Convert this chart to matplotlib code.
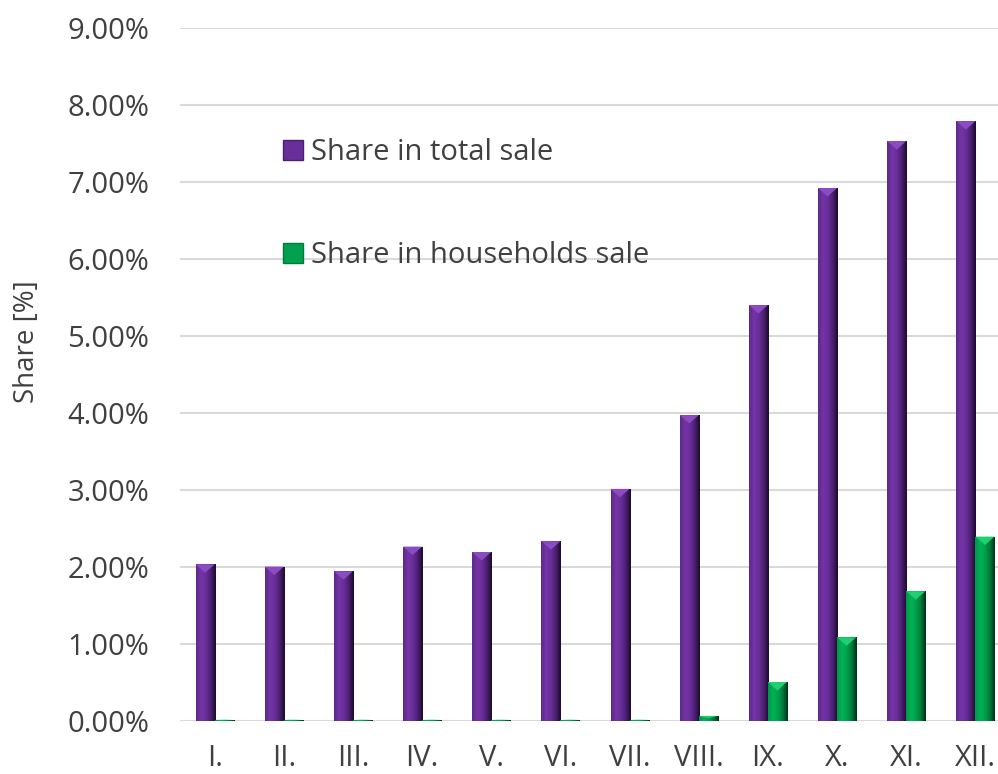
import numpy as np
import matplotlib
matplotlib.use("Agg")
import matplotlib.pyplot as plt
from matplotlib.patches import Patch, Polygon
from matplotlib.colors import LinearSegmentedColormap

# Data (shares in %)
months = ["I.", "II.", "III.", "IV.", "V.", "VI.", "VII.", "VIII.", "IX.", "X.", "XI.", "XII."]
total_share = [2.03, 2.00, 1.94, 2.26, 2.19, 2.33, 3.01, 3.97, 5.40, 6.92, 7.53, 7.79]
household_share = [0.01, 0.01, 0.01, 0.01, 0.01, 0.01, 0.01, 0.06, 0.50, 1.08, 1.68, 2.39]

plt.rcParams['font.family'] = ['Open Sans', 'DejaVu Sans']
text_color = '#404040'

# Bar shading: light left stripe, dark right edge
purple_cmap = LinearSegmentedColormap.from_list(
    'purple', ['#5b2a88', '#7534a8', '#6a2e9a', '#4a2070', '#1c0a2c'])
green_cmap = LinearSegmentedColormap.from_list(
    'green', ['#00944a', '#00b356', '#00a04d', '#007a3a', '#00301a'])

fig = plt.figure(figsize=(9.98, 7.74), dpi=100)
ax = fig.add_axes([180 / 998, 53.5 / 774, 830 / 998, 692.5 / 774])

x = np.arange(len(months))
w = 0.275
bars_total = ax.bar(x - w / 2, total_share, w, color='#6a2e9a', zorder=3)
bars_house = ax.bar(x + w / 2, household_share, w, color='#00a04d', zorder=3)

grad = np.linspace(0, 1, 64).reshape(1, -1)
for bars, cmap, top_col in [(bars_total, purple_cmap, '#8a4cc0'),
                            (bars_house, green_cmap, '#1fd070')]:
    for b in bars:
        x0, y0 = b.get_x(), b.get_y()
        x1, y1 = x0 + b.get_width(), y0 + b.get_height()
        im = ax.imshow(grad, extent=[x0, x1, y0, y1], aspect='auto',
                       cmap=cmap, zorder=4, interpolation='bicubic')
        im.set_clip_path(b)
        # small bevel at the top of the bar
        d = min(0.11, b.get_height() * 0.5)
        tri = Polygon([(x0, y1), (x1, y1), ((x0 + x1) / 2, y1 - d)],
                      closed=True, facecolor=top_col, edgecolor='none', zorder=5)
        ax.add_patch(tri)

ax.set_xlim(-0.5, len(months) - 0.5)
ax.set_ylim(0, 9)
ax.set_yticks(np.arange(0, 10, 1))
ax.set_yticklabels([f"{v:.2f}%" for v in np.arange(0, 10, 1)])
ax.set_xticks(x)
ax.set_xticklabels(months)

ax.grid(axis='y', color='#d9d9d9', linewidth=1.5, zorder=0)
ax.set_axisbelow(True)
for s in ax.spines.values():
    s.set_visible(False)
ax.tick_params(axis='both', length=0, labelsize=21, colors=text_color)
ax.tick_params(axis='y', pad=22)
ax.tick_params(axis='x', pad=17)

fig.text(27 / 998, 1 - 342 / 774, "Share [%]", rotation=90, ha='center',
         va='center', fontsize=20, color=text_color)

handles = [Patch(facecolor='#6a2e9a', edgecolor='#4a2070', label='Share in total sale'),
           Patch(facecolor='#00a04d', edgecolor='#007a3a', label='Share in households sale')]
leg = ax.legend(handles=handles, loc='upper left',
                bbox_to_anchor=(283 / 998, 1 - 138 / 774),
                bbox_transform=fig.transFigure, frameon=False, fontsize=21,
                handlelength=0.7, handleheight=0.7, handletextpad=0.25,
                labelspacing=2.55, borderpad=0, borderaxespad=0)
for t in leg.get_texts():
    t.set_color(text_color)

fig.savefig("out.png", dpi=100)
